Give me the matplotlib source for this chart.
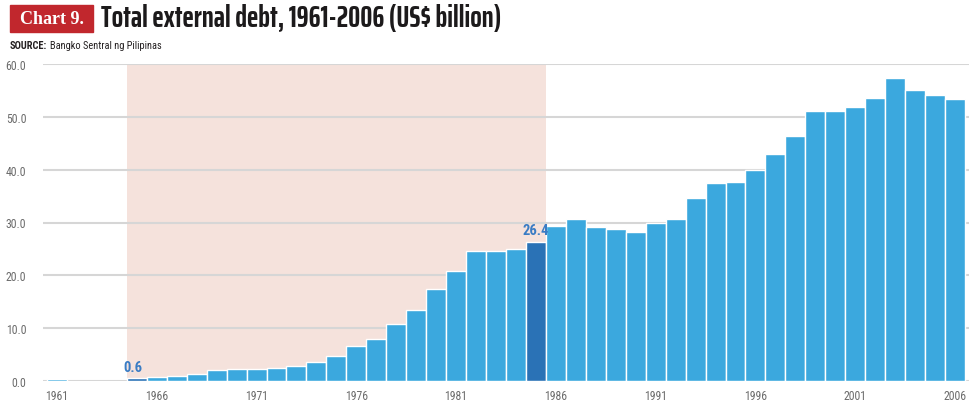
import matplotlib
matplotlib.use("Agg")
import matplotlib.pyplot as plt
from matplotlib.patches import Rectangle

# Total external debt of the Philippines, US$ billion (no figures for 1962-1964)
years = list(range(1961, 2007))
debt = [0.3, None, None, None, 0.6, 0.7, 0.9, 1.4, 2.0, 2.2,
        2.2, 2.5, 2.8, 3.6, 4.7, 6.6, 8.0, 10.7, 13.4, 17.4,
        20.8, 24.6, 24.6, 24.9, 26.4, 29.3, 30.6, 29.2, 28.7, 28.2,
        29.9, 30.6, 34.7, 37.5, 37.7, 39.9, 42.9, 46.3, 51.1, 51.1,
        51.9, 53.6, 57.4, 55.0, 54.2, 53.3]
highlight_years = [1965, 1985]
shaded_span = (1965, 1985)
tick_years = [1961, 1966, 1971, 1976, 1981, 1986, 1991, 1996, 2001, 2006]
y_ticks = [0, 10, 20, 30, 40, 50, 60]

BAR = "#3ba8de"
DARK = "#2a72b6"
SHADE = "#f5e2dc"
GRID = "#d6d6d6"
TICK = "#6b6b6b"
COND = ["Roboto Condensed", "DejaVu Sans"]
HEAD = ["Saira ExtraCondensed", "Roboto Condensed", "DejaVu Sans"]

fig = plt.figure(figsize=(9.69, 4.06), dpi=100)
ax = fig.add_axes([43 / 969, (406 - 382) / 406, (969 - 43) / 969, (382 - 65) / 406])

xs = [y for y, v in zip(years, debt) if v is not None]
vs = [v for v in debt if v is not None]
colors = [DARK if y in highlight_years else BAR for y in xs]
ax.bar(xs, vs, width=1.0, color=colors, edgecolor="white", linewidth=1.0, zorder=3)

ax.axvspan(shaded_span[0] - 0.5, shaded_span[1] + 0.5, color=SHADE, zorder=0, lw=0)

for y in highlight_years:
    v = debt[years.index(y)]
    ax.text(y - 0.65, v + 0.8, f"{v:.1f}", color="#3a7cc4", fontsize=10.5,
            fontweight="bold", family=COND, ha="left", va="bottom", zorder=4)

ax.set_xlim(1960.3, 2006.7)
ax.set_ylim(0, 60)
ax.set_yticks(y_ticks)
ax.set_yticklabels([f"{t:.1f}" for t in y_ticks])
ax.set_xticks(tick_years)
ax.set_xticklabels([str(t) for t in tick_years])
ax.yaxis.grid(True, color=GRID, linewidth=1.5, zorder=1)
ax.set_axisbelow(True)
for s in ax.spines.values():
    s.set_visible(False)
ax.tick_params(length=0, labelsize=8.5, labelcolor=TICK, pad=6)
ax.tick_params(axis="y", pad=12)
for lab in ax.get_xticklabels() + ax.get_yticklabels():
    lab.set_family(COND)

# heading
fig.patches.append(Rectangle((10 / 969, 1 - 33 / 406), 83 / 969, 27 / 406,
                             transform=fig.transFigure, color="#c1272d"))
fig.text(51.5 / 969, 1 - 20 / 406, "Chart 9.", color="white", fontsize=13,
         fontweight="bold", family="Liberation Serif", ha="center", va="center")
fig.text(101 / 969, 1 - 19 / 406, "Total external debt, 1961-2006 (US$ billion)",
         color="#1c1a1b", fontsize=21.8, fontweight="bold", family=HEAD,
         ha="left", va="center")
src = fig.text(10 / 969, 1 - 46 / 406, "SOURCE:", color="#231f20", fontsize=7.5,
               fontweight="bold", family=COND, ha="left", va="center")
fig.canvas.draw()
bb = src.get_window_extent()
fig.text((bb.x1 + 3) / 969, 1 - 46 / 406, "Bangko Sentral ng Pilipinas",
         color="#231f20", fontsize=7.5, family=COND, ha="left", va="center")

fig.savefig("out.png", dpi=100)
